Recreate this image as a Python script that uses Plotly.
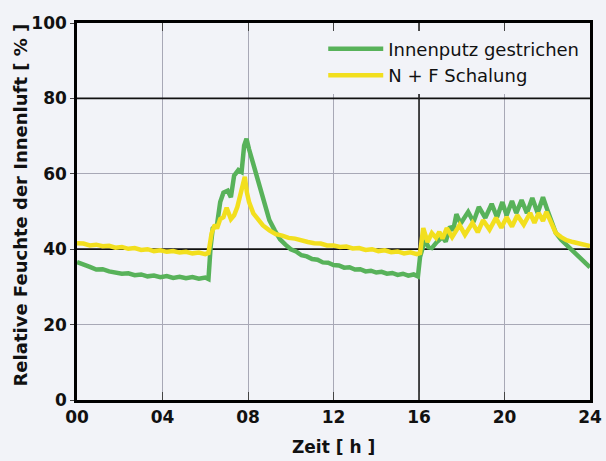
import plotly.graph_objects as go

# ---- data ----
hours_green = [0, 0.3, 0.6, 0.9, 1.2, 1.5, 1.8, 2.1, 2.4, 2.7, 3.0, 3.3, 3.6, 3.9, 4.2, 4.5, 4.8,
               5.1, 5.4, 5.7, 6.0, 6.15, 6.25, 6.35, 6.55, 6.7, 6.85, 7.05, 7.2, 7.35, 7.55, 7.7,
               7.82, 7.93, 8.05, 8.2, 8.4, 8.55, 8.75, 9.0, 9.25, 9.5, 9.75, 10.0, 10.25, 10.5,
               10.75, 11.0, 11.25, 11.5, 11.75, 12.0, 12.25, 12.5, 12.75, 13.0, 13.25, 13.5, 13.75,
               14.0, 14.25, 14.5, 14.75, 15.0, 15.25, 15.5, 15.75, 15.95, 16.05, 16.15, 16.28,
               16.45, 16.6, 16.85, 17.1, 17.25, 17.45, 17.6, 17.75, 17.95, 18.3, 18.55, 18.8, 19.1,
               19.4, 19.65, 19.9, 20.1, 20.35, 20.55, 20.8, 21.05, 21.3, 21.55, 21.8, 22.0, 22.2,
               22.4, 22.65, 22.9, 23.2, 23.5, 23.75, 24.0]
rh_green = [36.6, 35.8, 35.3, 34.6, 34.7, 34.1, 33.9, 33.5, 33.6, 33.1, 33.3, 32.8, 33.0, 32.6,
            32.9, 32.4, 32.7, 32.3, 32.6, 32.2, 32.5, 32.1, 40.5, 45.5, 46.5, 52.5, 55.0, 55.5,
            53.8, 59.5, 61.0, 60.5, 67.5, 69.3, 66.5, 63.5, 59.0, 56.5, 52.0, 47.7, 45.0, 42.6,
            41.2, 40.0, 39.4, 38.4, 38.1, 37.4, 37.2, 36.5, 36.4, 35.8, 35.7, 35.1, 35.2, 34.6,
            34.7, 34.1, 34.3, 33.8, 34.0, 33.5, 33.7, 33.2, 33.5, 33.0, 33.3, 32.8, 38.0, 40.0,
            42.4, 40.5, 40.3, 42.0, 43.2, 42.0, 46.0, 45.0, 49.3, 46.8, 49.9, 47.2, 51.2, 48.3,
            52.0, 48.5, 52.5, 49.0, 52.8, 49.6, 53.0, 49.6, 53.6, 49.6, 53.8, 50.5, 47.0, 44.3,
            42.5, 41.1, 39.5, 37.7, 36.5, 35.2]

hours_yellow = [0, 0.3, 0.6, 0.9, 1.2, 1.5, 1.8, 2.1, 2.4, 2.7, 3.0, 3.3, 3.6, 3.9, 4.2, 4.5, 4.8,
                5.1, 5.4, 5.7, 6.0, 6.15, 6.3, 6.45, 6.55, 6.7, 6.85, 7.0, 7.2, 7.35, 7.5, 7.6,
                7.75, 7.85, 7.95, 8.05, 8.25, 8.45, 8.7, 9.0, 9.3, 9.6, 9.9, 10.2, 10.5, 10.8,
                11.1, 11.4, 11.7, 12.0, 12.3, 12.6, 12.9, 13.2, 13.5, 13.8, 14.1, 14.4, 14.7, 15.0,
                15.3, 15.6, 15.9, 16.05, 16.2, 16.4, 16.6, 16.8, 16.95, 17.1, 17.3, 17.55, 17.9,
                18.15, 18.5, 18.75, 19.0, 19.3, 19.6, 19.85, 20.1, 20.35, 20.6, 20.9, 21.2, 21.4,
                21.6, 21.8, 21.96, 22.15, 22.4, 22.65, 22.9, 23.2, 23.5, 23.8, 24.0]
rh_yellow = [41.6, 41.5, 41.0, 41.2, 40.8, 40.9, 40.4, 40.6, 40.1, 40.3, 39.8, 40.0, 39.5, 39.7,
             39.3, 39.5, 39.1, 39.3, 38.9, 39.1, 38.7, 39.0, 44.3, 46.5, 45.5, 48.0, 48.5, 51.0,
             48.0, 49.0, 51.2, 53.8, 57.5, 59.2, 55.0, 52.5, 49.5, 48.0, 46.3, 45.0, 44.0, 43.6,
             43.0, 42.8, 42.2, 41.9, 41.6, 41.5, 41.0, 41.0, 40.6, 40.7, 40.2, 40.3, 39.8, 40.0,
             39.5, 39.7, 39.2, 39.4, 38.9, 39.2, 38.7, 39.0, 45.6, 41.9, 44.3, 43.0, 44.6, 42.8,
             45.6, 43.2, 46.4, 43.8, 47.0, 44.5, 47.7, 45.2, 48.3, 45.7, 48.5, 46.0, 49.0, 46.5,
             49.6, 47.0, 49.6, 47.5, 49.9, 47.5, 44.3, 43.2, 42.4, 41.9, 41.6, 41.2, 40.8]

x_tickvals = [0, 4, 8, 12, 16, 20, 24]
x_ticktext = ["00", "04", "08", "12", "16", "20", "24"]
y_tickvals = [0, 20, 40, 60, 80, 100]
series_names = ["Innenputz gestrichen", "N + F Schalung"]

BG = "#f2f3f8"
GREEN = "#58b25a"
YELLOW = "#f2df1e"
FONT = "DejaVu Sans"

fig = go.Figure()
fig.add_trace(go.Scatter(x=hours_green, y=rh_green, mode="lines", name=series_names[0],
                         line=dict(color=GREEN, width=4.5)))
fig.add_trace(go.Scatter(x=hours_yellow, y=rh_yellow, mode="lines", name=series_names[1],
                         line=dict(color=YELLOW, width=4.5)))

# darker grid lines
for yv in [40, 80]:
    fig.add_shape(type="line", xref="x", yref="y", x0=0, x1=24, y0=yv, y1=yv,
                  line=dict(color="#111111", width=1.8), layer="between")
fig.add_shape(type="line", xref="x", yref="y", x0=16, x1=16, y0=0, y1=100,
              line=dict(color="#222222", width=1.6), layer="between")

fig.update_layout(
    width=606, height=461,
    margin=dict(l=77, r=16, t=23, b=61, autoexpand=False),
    paper_bgcolor=BG, plot_bgcolor=BG,
    font=dict(family=FONT, color="#111111"),
    showlegend=True,
    legend=dict(x=0.48, y=0.98, xanchor="left", yanchor="top",
                bgcolor=BG, borderwidth=0, font=dict(family=FONT, size=18, color="#111111"),
                itemwidth=55, tracegroupgap=0),
    xaxis=dict(range=[0, 24], tickvals=x_tickvals, ticktext=x_ticktext, automargin=False,
               showgrid=True, gridcolor="#a8a8b6", gridwidth=1,
               showline=True, linecolor="black", linewidth=2.5, mirror="ticks",
               ticks="inside", ticklen=8, tickcolor="#444444", tickwidth=1,
               tickfont=dict(family=FONT, size=17, weight="bold", color="#111111"),
               zeroline=False),
    yaxis=dict(range=[0, 100], tickvals=y_tickvals, automargin=False,
               showgrid=True, gridcolor="#a8a8b6", gridwidth=1,
               showline=True, linecolor="black", linewidth=2.5, mirror=True,
               ticks="outside", ticklen=4, tickcolor="#444444", tickwidth=1,
               tickfont=dict(family=FONT, size=17, weight="bold", color="#111111"),
               zeroline=False),
    annotations=[
        dict(text="Zeit [ h ]", xref="paper", yref="paper", x=0.5, y=0, xanchor="center",
             yanchor="middle", yshift=-47, showarrow=False,
             font=dict(family=FONT, size=17, weight="bold", color="#111111")),
        dict(text="Relative Feuchte der Innenluft [ % ]", xref="paper", yref="paper", x=0, y=0.5,
             xanchor="center", yanchor="middle", xshift=-57, yshift=6, textangle=-90,
             showarrow=False, font=dict(family=FONT, size=18, weight="bold", color="#111111")),
    ],
)

fig.write_html(
    "out.html",
    config={"displayModeBar": False},
    post_script="document.body.style.margin='0';document.body.style.background='%s';"
                "document.documentElement.style.background='%s';" % (BG, BG),
)
